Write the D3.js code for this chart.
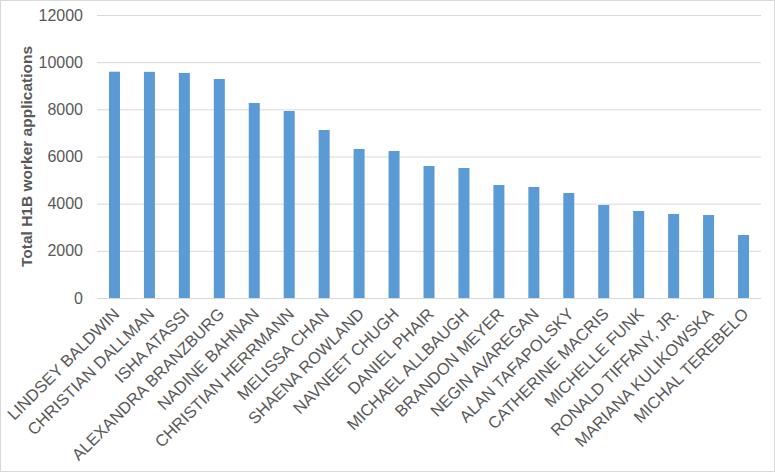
<!DOCTYPE html>
<html><head><meta charset="utf-8">
<script src="https://cdn.jsdelivr.net/npm/d3@7/dist/d3.min.js"></script>
<style>body{margin:0;background:#fff}svg{display:block}text{font-family:"Liberation Sans",Arial,sans-serif}</style>
</head><body><svg id="c" width="775" height="472"></svg>
<script>
const names = ["LINDSEY BALDWIN","CHRISTIAN DALLMAN","ISHA ATASSI","ALEXANDRA BRANZBURG","NADINE BAHNAN","CHRISTIAN HERRMANN","MELISSA CHAN","SHAENA ROWLAND","NAVNEET CHUGH","DANIEL PHAIR","MICHAEL ALLBAUGH","BRANDON MEYER","NEGIN AVAREGAN","ALAN TAFAPOLSKY","CATHERINE MACRIS","MICHELLE FUNK","RONALD TIFFANY, JR.","MARIANA KULIKOWSKA","MICHAL TEREBELO"];
const applications = [9596,9590,9541,9286,8268,7929,7124,6318,6233,5597,5512,4792,4707,4452,3943,3689,3562,3519,2671];
const yTicks = [0,2000,4000,6000,8000,10000,12000];
const yTitle = "Total H1B worker applications";

const svg = d3.select("#c");
svg.append("rect").attr("x",0.5).attr("y",0.5).attr("width",774).attr("height",471).attr("fill","#fff").attr("stroke","#d9d9d9");
const pL=97,pR=761,pT=15,pB=298;
const x = d3.scaleBand().domain(names).range([pL,pR]).paddingInner(0.685).paddingOuter(0.3425);
const y = d3.scaleLinear().domain([0,12000]).range([pB,pT]);

const ga = svg.append("g").attr("transform",`translate(${pL},0)`)
  .call(d3.axisLeft(y).tickValues(yTicks).tickSize(-(pR-pL)).tickPadding(14).tickFormat(d3.format("d")));
ga.select(".domain").remove();
ga.selectAll(".tick line").attr("stroke","#d9d9d9").attr("stroke-width",1);
ga.selectAll(".tick text").attr("fill","#595959").style("font-size","16px").attr("font-family","Liberation Sans, Arial, sans-serif");

svg.append("g").selectAll("rect").data(applications).join("rect")
  .attr("x",(d,i)=>x(names[i])).attr("width",x.bandwidth())
  .attr("y",d=>y(d)).attr("height",d=>y(0)-y(d)).attr("fill","#5B9BD5");

const gx = svg.append("g").attr("transform",`translate(0,${pB})`).call(d3.axisBottom(x).tickSize(0).tickPadding(0));
gx.select(".domain").attr("stroke","#d9d9d9").attr("d",`M${pL},0.5H${pR}`);
gx.selectAll(".tick text").attr("fill","#595959").style("font-size","16.5px").attr("font-family","Liberation Sans, Arial, sans-serif")
  .attr("text-anchor","end").attr("dy",null).attr("y",null)
  .attr("transform","translate(6,17) rotate(-45)");

svg.append("text").attr("transform",`translate(32,${(pT+pB)/2}) rotate(-90)`).attr("text-anchor","middle")
  .attr("fill","#595959").style("font-size","15.5px").style("font-weight","bold").text(yTitle);
</script></body></html>
